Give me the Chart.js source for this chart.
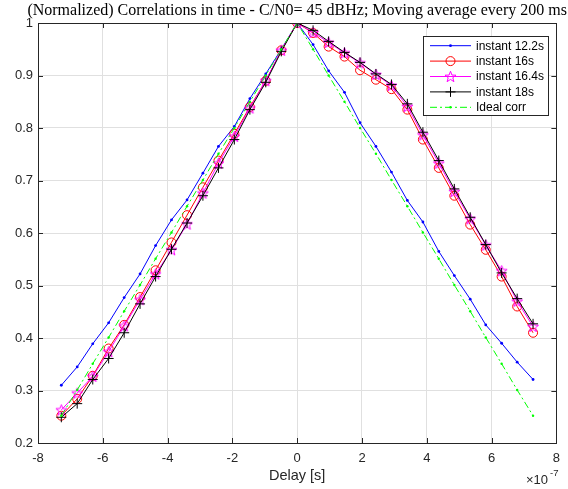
<!doctype html>
<html lang="en">
<head>
<meta charset="utf-8">
<title>Correlations in time</title>
<style>
    * { margin: 0; padding: 0; }
    body { background: #fff; }
    #myChart { display: block; }
</style>
</head>
<body>
<canvas id="myChart" width="568" height="489"></canvas>
<script src="https://cdn.jsdelivr.net/npm/chart.js"></script>
<script>
    // delay axis, in units of 1e-7 s (axis shows the x10^-7 multiplier)
    const delays = [-7.28, -6.79, -6.31, -5.82, -5.34, -4.85, -4.37, -3.88, -3.40, -2.91, -2.43,
        -1.94, -1.46, -0.97, -0.49, 0, 0.49, 0.97, 1.46, 1.94, 2.43, 2.91, 3.40, 3.88, 4.37, 4.85,
        5.34, 5.82, 6.31, 6.79, 7.28];

    const inst122 = [0.310, 0.345, 0.389, 0.429, 0.477, 0.522, 0.576, 0.625, 0.663, 0.714, 0.765,
        0.803, 0.856, 0.903, 0.950, 1.000, 0.959, 0.909, 0.868, 0.810, 0.765, 0.716, 0.662, 0.621,
        0.565, 0.519, 0.474, 0.425, 0.390, 0.354, 0.321];
    const inst16 = [0.252, 0.284, 0.328, 0.380, 0.425, 0.478, 0.529, 0.582, 0.634, 0.687, 0.738,
        0.789, 0.840, 0.890, 0.948, 1.000, 0.981, 0.955, 0.936, 0.910, 0.892, 0.874, 0.835, 0.778,
        0.724, 0.671, 0.616, 0.568, 0.517, 0.460, 0.410];
    const inst164 = [0.263, 0.295, 0.327, 0.374, 0.423, 0.473, 0.522, 0.568, 0.617, 0.676, 0.733,
        0.784, 0.838, 0.890, 0.948, 1.000, 0.982, 0.963, 0.943, 0.924, 0.902, 0.881, 0.841, 0.787,
        0.733, 0.679, 0.627, 0.577, 0.528, 0.470, 0.422];
    const inst18 = [0.249, 0.275, 0.321, 0.361, 0.410, 0.465, 0.517, 0.569, 0.619, 0.671, 0.724,
        0.778, 0.835, 0.887, 0.946, 1.000, 0.986, 0.965, 0.944, 0.925, 0.903, 0.883, 0.846, 0.792,
        0.738, 0.684, 0.630, 0.578, 0.524, 0.475, 0.427];
    const idealCorr = [0.252, 0.301, 0.351, 0.401, 0.451, 0.501, 0.551, 0.601, 0.651, 0.701, 0.751,
        0.800, 0.850, 0.900, 0.950, 1.000, 0.950, 0.900, 0.850, 0.800, 0.751, 0.701, 0.651, 0.601,
        0.551, 0.501, 0.451, 0.401, 0.351, 0.301, 0.252];

    const seriesLabels = ['instant 12.2s', 'instant 16s', 'instant 16.4s', 'instant 18s', 'Ideal corr'];
    const xTicks = [-8, -6, -4, -2, 0, 2, 4, 6, 8];
    const yTicks = [0.2, 0.3, 0.4, 0.5, 0.6, 0.7, 0.8, 0.9, 1];

    const titleText = '(Normalized) Correlations in time - C/N0= 45 dBHz; Moving average every 200 ms';
    const axisColor = '#262626';
    const sans = '"Liberation Sans", Arial, sans-serif';

    // pentagram marker (matlab 'p')
    const pent = document.createElement('canvas');
    pent.width = 13; pent.height = 13;
    (function () {
        const c = pent.getContext('2d');
        const cx = 6.5, cy = 7, ro = 5.8, ri = 2.4;
        c.beginPath();
        for (let i = 0; i < 10; i++) {
            const r = i % 2 ? ri : ro;
            const a = -Math.PI / 2 + i * Math.PI / 5;
            const px = cx + r * Math.cos(a), py = cy + r * Math.sin(a);
            i ? c.lineTo(px, py) : c.moveTo(px, py);
        }
        c.closePath();
        c.strokeStyle = '#ff00ff';
        c.lineWidth = 1;
        c.stroke();
    })();

    const toXY = ys => ys.map((v, i) => ({x: delays[i], y: v}));

    const data = {
        datasets: [{
            label: seriesLabels[0],
            data: toXY(inst122),
            borderColor: '#0000ff',
            pointStyle: 'circle',
            pointRadius: 1.4,
            pointBackgroundColor: '#0000ff',
            pointBorderWidth: 0,
            order: 5
        }, {
            label: seriesLabels[1],
            data: toXY(inst16),
            borderColor: '#ff0000',
            pointStyle: 'circle',
            pointRadius: 4.5,
            pointBackgroundColor: 'rgba(0,0,0,0)',
            pointBorderColor: '#ff0000',
            pointBorderWidth: 1,
            order: 4
        }, {
            label: seriesLabels[2],
            data: toXY(inst164),
            borderColor: '#ff00ff',
            pointStyle: pent,
            pointRadius: 6,
            order: 3
        }, {
            label: seriesLabels[3],
            data: toXY(inst18),
            borderColor: '#000000',
            pointStyle: 'cross',
            pointRadius: 5,
            pointBorderColor: '#000000',
            pointBorderWidth: 1,
            order: 2
        }, {
            label: seriesLabels[4],
            data: toXY(idealCorr),
            borderColor: '#00ff00',
            borderDash: [7, 3, 2, 3],
            pointStyle: 'circle',
            pointRadius: 1.2,
            pointBackgroundColor: '#00ff00',
            pointBorderWidth: 0,
            order: 1
        }]
    };

    function drawMarker(ctx, ds, x, y) {
        const st = ds.pointStyle;
        if (st === pent) {
            ctx.drawImage(pent, x - pent.width / 2, y - pent.height / 2);
            return;
        }
        ctx.beginPath();
        if (st === 'cross') {
            ctx.moveTo(x - ds.pointRadius, y); ctx.lineTo(x + ds.pointRadius, y);
            ctx.moveTo(x, y - ds.pointRadius); ctx.lineTo(x, y + ds.pointRadius);
            ctx.strokeStyle = ds.pointBorderColor; ctx.lineWidth = 1;
            ctx.stroke();
            return;
        }
        ctx.arc(x, y, ds.pointRadius, 0, Math.PI * 2);
        if (ds.pointBorderWidth) {
            ctx.strokeStyle = ds.pointBorderColor; ctx.lineWidth = 1; ctx.stroke();
        } else {
            ctx.fillStyle = ds.pointBackgroundColor; ctx.fill();
        }
    }

    // matlab style box, inward ticks, title, legend and exponent
    const matlabAxes = {
        id: 'matlabAxes',
        afterDatasetsDraw(chart) {
            const {ctx, chartArea: {top, bottom, left, right}, scales: {x, y}} = chart;
            ctx.save();
            ctx.strokeStyle = axisColor;
            ctx.lineWidth = 1;
            ctx.beginPath();
            xTicks.forEach(t => {
                const px = Math.round(x.getPixelForValue(t)) + 0.5;
                ctx.moveTo(px, bottom); ctx.lineTo(px, bottom - 5);
                ctx.moveTo(px, top); ctx.lineTo(px, top + 5);
            });
            yTicks.forEach(t => {
                const py = Math.round(y.getPixelForValue(t)) + 0.5;
                ctx.moveTo(left, py); ctx.lineTo(left + 5, py);
                ctx.moveTo(right, py); ctx.lineTo(right - 5, py);
            });
            ctx.stroke();
            ctx.strokeRect(Math.round(left) + 0.5, Math.round(top) + 0.5,
                Math.round(right - left), Math.round(bottom - top));

            // title
            ctx.fillStyle = '#000';
            ctx.font = '16px "Liberation Serif", "Times New Roman", serif';
            ctx.textAlign = 'center';
            ctx.textBaseline = 'alphabetic';
            ctx.fillText(titleText, (left + right) / 2, 15);

            // exponent
            ctx.fillStyle = axisColor;
            ctx.textAlign = 'left';
            ctx.font = '13px ' + sans;
            ctx.fillText('\u00d710', 526, 484);
            ctx.font = '9.5px ' + sans;
            ctx.fillText('-7', 550, 476);

            // legend
            const lx = 423, ly = 36, lw = 125, lh = 79;
            ctx.fillStyle = '#fff';
            ctx.fillRect(lx, ly, lw, lh);
            ctx.strokeStyle = axisColor;
            ctx.strokeRect(lx + 0.5, ly + 0.5, lw, lh);
            ctx.font = '12px ' + sans;
            ctx.textBaseline = 'middle';
            chart.data.datasets.forEach((ds, i) => {
                const ry = ly + 9.7 + i * 15.4;
                ctx.save();
                ctx.strokeStyle = ds.borderColor;
                ctx.lineWidth = 1;
                ctx.setLineDash(ds.borderDash || []);
                ctx.beginPath();
                ctx.moveTo(430, ry); ctx.lineTo(471, ry);
                ctx.stroke();
                ctx.setLineDash([]);
                drawMarker(ctx, ds, 450.5, ry);
                ctx.restore();
                ctx.fillStyle = '#000';
                ctx.fillText(ds.label, 476, ry + 0.5);
            });
            ctx.restore();
        }
    };

    const config = {
        type: 'line',
        data,
        options: {
            responsive: false,
            animation: false,
            devicePixelRatio: 1,
            events: [],
            layout: {padding: {top: 23, right: 9, left: 0, bottom: 0}},
            elements: {line: {borderWidth: 1, tension: 0, fill: false}},
            plugins: {legend: {display: false}, title: {display: false}, tooltip: {enabled: false}},
            scales: {
                x: {
                    type: 'linear',
                    min: -8,
                    max: 8,
                    afterFit: s => { s.height = 46; },
                    afterBuildTicks: s => { s.ticks = xTicks.map(v => ({value: v})); },
                    border: {display: false},
                    grid: {color: '#e0e0e0', drawTicks: false},
                    ticks: {
                        color: axisColor,
                        padding: 8,
                        maxRotation: 0,
                        font: {family: sans, size: 13},
                        callback: v => String(v)
                    },
                    title: {
                        display: true,
                        text: 'Delay [s]',
                        color: axisColor,
                        font: {family: sans, size: 14.5},
                        padding: {top: 0, bottom: 4}
                    }
                },
                y: {
                    type: 'linear',
                    min: 0.2,
                    max: 1,
                    afterFit: s => { s.width = 38; },
                    afterBuildTicks: s => { s.ticks = yTicks.map(v => ({value: v})); },
                    border: {display: false},
                    grid: {color: '#e0e0e0', drawTicks: false},
                    ticks: {
                        color: axisColor,
                        padding: 5,
                        font: {family: sans, size: 13},
                        callback: v => String(+v.toFixed(1))
                    }
                }
            }
        },
        plugins: [matlabAxes]
    };

    const myChart = new Chart(document.getElementById('myChart'), config);
</script>
</body>
</html>
